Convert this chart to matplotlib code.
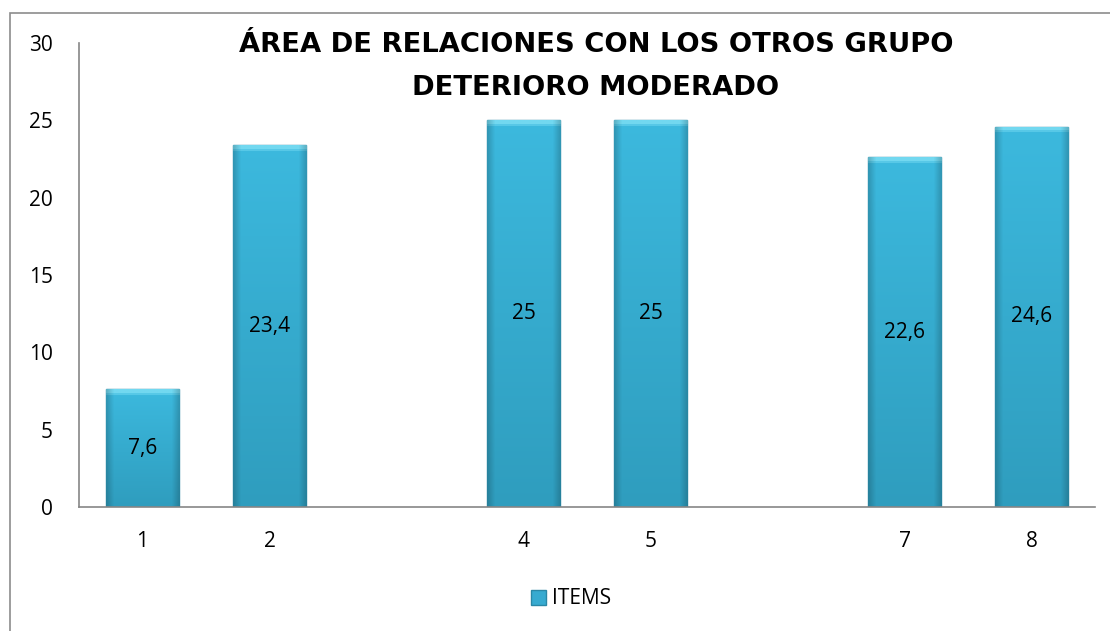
import numpy as np
import matplotlib
matplotlib.use('Agg')
from matplotlib import pyplot as plt
from matplotlib.colors import to_rgb
from matplotlib.patches import Rectangle

# Chart data
categories = [1, 2, 4, 5, 7, 8]
values = [7.6, 23.4, 25, 25, 22.6, 24.6]
valueLabels = ['7,6', '23,4', '25', '25', '22,6', '24,6']
titleLines = ['ÁREA DE RELACIONES CON LOS OTROS GRUPO', 'DETERIORO MODERADO']
legendText = 'ITEMS'

FONT = ['Open Sans', 'DejaVu Sans']
BAR_COLOR = '#37aad0'
EDGE_COLOR = '#2a87a6'
TOP_COLOR = '#3cb9de'
BOTTOM_COLOR = '#2f9dbe'
BEVEL_COLOR = '#72d8f0'


def barShade(rows, cols=40, bevelRows=4):
    # Vertical fade from light top to darker bottom, darker at the sides
    top = np.array(to_rgb(TOP_COLOR))
    bottom = np.array(to_rgb(BOTTOM_COLOR))
    bevel = np.array(to_rgb(BEVEL_COLOR))
    t = np.linspace(0, 1, rows)[:, None, None]
    img = top * (1 - t) + bottom * t
    img = np.repeat(img, cols, axis=1)
    img[:bevelRows] = bevel
    img[bevelRows:bevelRows + 2] = (bevel + top) / 2
    side = np.abs(np.linspace(-1, 1, cols))
    factor = 1 - 0.18 * np.clip((side - 0.8) / 0.2, 0, 1)
    return img * factor[None, :, None]


plt.rcParams['font.family'] = FONT
fig = plt.figure(figsize=(11.1, 6.31), dpi=100)
ax = fig.add_axes([79 / 1110, 124 / 631, 1016 / 1110, 464 / 631])

bars = ax.bar(categories, values, width=0.575, color=BAR_COLOR,
              edgecolor=EDGE_COLOR, linewidth=1.0, label=legendText)

# Roughly one shade row per pixel of bar height
pxPerUnit = 464 / 30
for bar in bars:
    x0 = bar.get_x()
    h = bar.get_height()
    shade = barShade(max(int(h * pxPerUnit), 10))
    im = ax.imshow(shade, extent=[x0, x0 + bar.get_width(), 0, h],
                   aspect='auto', zorder=bar.get_zorder() + 0.1,
                   interpolation='bilinear')
    im.set_clip_path(bar)

# Value labels in the middle of each bar
for (x, v, lab) in zip(categories, values, valueLabels):
    ax.text(x, v / 2, lab, ha='center', va='center', fontsize=15,
            color='black', zorder=5)

ax.set_xlim(0.5, 8.5)
ax.set_ylim(0, 30)
ax.set_xticks(categories)
ax.set_xticklabels([str(c) for c in categories])
ax.set_yticks(range(0, 31, 5))
ax.tick_params(axis='both', length=0, labelsize=15)
ax.tick_params(axis='x', pad=17)
ax.tick_params(axis='y', pad=19)
for side in ['top', 'right']:
    ax.spines[side].set_visible(False)
for side in ['left', 'bottom']:
    ax.spines[side].set_color('#868686')
    ax.spines[side].set_linewidth(1.2)
    ax.spines[side].set_zorder(6)

# Two title lines, wide bold face
titleFont = ['DejaVu Sans']
fig.text(596 / 1110, 1 - 45 / 631, titleLines[0], ha='center', va='center',
         fontsize=19.7, fontweight='bold', family=titleFont)
fig.text(596 / 1110, 1 - 88 / 631, titleLines[1], ha='center', va='center',
         fontsize=19.7, fontweight='bold', family=titleFont)

leg = fig.legend(handles=[bars], labels=[legendText], loc='center',
                 bbox_to_anchor=(571 / 1110, 1 - 599 / 631), frameon=False,
                 fontsize=15, handlelength=0.75, handleheight=0.75,
                 handletextpad=0.3)

# Outer chart border
fig.patches.append(Rectangle((10 / 1110, -0.1), 1.2, 0.1 + 618 / 631,
                             transform=fig.transFigure, fill=False,
                             edgecolor='#8c8c8c', linewidth=1.2))

fig.savefig('out.png', dpi=100)
plt.close(fig)
